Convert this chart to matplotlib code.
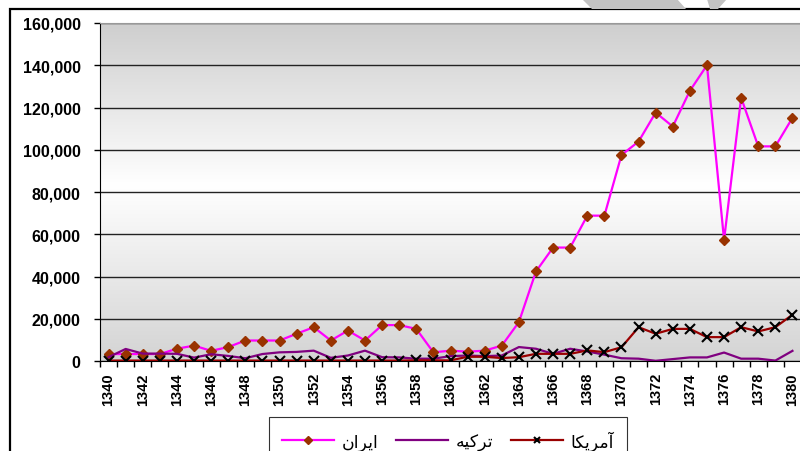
import numpy as np
import matplotlib
matplotlib.use("Agg")
import matplotlib.pyplot as plt
from matplotlib.patches import Rectangle, Polygon
from matplotlib.ticker import FuncFormatter, FixedLocator

# --------------------------------------------------
# data
# --------------------------------------------------

years = list(range(1340, 1381))

iran = [3300, 3300, 3300, 3300, 5800, 7300, 4800, 6600, 9700, 9700,
        9700, 12900, 16000, 9700, 14400, 9700, 17000, 17000, 15200, 4100,
        4900, 4400, 4900, 7300, 18400, 42400, 53700, 53700, 68800, 68800,
        97500, 103900, 117600, 111000, 127900, 140000, 57300, 124600, 101600, 101600,
        115100]

turkey = [1800, 5700, 3500, 3500, 3400, 1600, 3200, 2400, 1300, 3300,
          4100, 4300, 4900, 1500, 2600, 4900, 1800, 1700, 1100, 1100,
          2300, 2600, 2300, 2600, 6600, 5800, 3400, 5800, 4500, 3000,
          1300, 1100, 100, 900, 1700, 1700, 4000, 1100, 1100, 200,
          4800]

usa = [200, 200, 200, 200, 200, 200, 200, 200, 200, 200,
       200, 200, 200, 200, 200, 200, 200, 200, 300, 300,
       300, 2000, 2000, 1400, 1800, 3400, 3400, 3400, 5000, 4200,
       6500, 16000, 12900, 15200, 15200, 11300, 11300, 16000, 14000, 16000,
       21900]

# Persian labels, written in shaped (presentation) forms in visual order,
# since matplotlib does no Arabic shaping itself
label_iran = "\uFEE5\uFE8D\uFEAE\uFEF3\uFE8D"          # ایران
label_turkey = "\uFEEA\uFEF4\uFEDB\uFEAE\uFE97"        # ترکیه
label_usa = "\uFE8E\uFEDC\uFEF3\uFEAE\uFEE3\uFE81"     # آمریکا

y_ticks = [0, 20000, 40000, 60000, 80000, 100000, 120000, 140000, 160000]

# --------------------------------------------------
# figure
# --------------------------------------------------

plt.rcParams["font.family"] = ["Liberation Sans", "DejaVu Sans"]

W, H = 800, 452
fig = plt.figure(figsize=(W / 100, H / 100), dpi=100)
ax = fig.add_axes([100 / W, (H - 362) / H, 701 / W, 338 / H])

# vertical gray-white-gray gradient behind the plot
t = np.linspace(0, 1, 256)
shade = np.where(t < 0.52, 0.83 + 0.17 * t / 0.52, 1.0 - 0.19 * (t - 0.52) / 0.48)
grad = np.repeat(shade[:, None, None], 3, axis=2)
ax.imshow(grad, extent=[0, 1, 0, 1], transform=ax.transAxes, origin="lower",
          aspect="auto", zorder=0, interpolation="bilinear")
ax.patch.set_visible(False)

x = np.arange(len(years))
ax.plot(x, iran, color="#ff00ff", lw=1.6, marker="D", markersize=5.5,
        markerfacecolor="#993300", markeredgecolor="#993300", label=label_iran, zorder=3)
ax.plot(x, turkey, color="#800080", lw=1.6, label=label_turkey, zorder=3)
ax.plot(x, usa, color="#990000", lw=1.6, marker="x", markersize=6.5,
        markeredgecolor="black", markeredgewidth=1.5, label=label_usa, zorder=4)

ax.set_xlim(-0.5, len(years) - 0.5)
ax.set_ylim(0, 160000)

ax.set_yticks(y_ticks)
ax.yaxis.set_major_formatter(FuncFormatter(lambda v, p: f"{int(v):,}"))
ax.grid(axis="y", color="#222222", lw=1.0)
ax.set_axisbelow(True)

ax.set_xticks(x[::2])
ax.set_xticklabels([str(y) for y in years[::2]], rotation=90)
ax.xaxis.set_minor_locator(FixedLocator(np.arange(-0.5, len(years), 1.0)))
ax.tick_params(axis="x", which="major", length=0, pad=8, labelsize=10.5)
ax.tick_params(axis="x", which="minor", length=4, width=1, direction="out")
ax.tick_params(axis="y", length=4, width=1, pad=10, labelsize=11.5)
for lab in ax.get_xticklabels() + ax.get_yticklabels():
    lab.set_fontweight("bold")

ax.spines["left"].set_color("black")
ax.spines["bottom"].set_color("black")
ax.spines["top"].set_color("#999999")
ax.spines["right"].set_visible(False)

# outer chart border (cut by the right and bottom edges)
fig.patches.append(Rectangle((10 / W, -0.5), 2, (H - 10) / H + 0.5, transform=fig.transFigure,
                             fill=False, ec="black", lw=1.6))

# watermark fragment above the border
wm_left = [(582, 0), (677, 0), (686, 10), (592, 10)]
wm_right = [(707, 0), (727, 0), (718, 10), (710, 10)]
for pts in (wm_left, wm_right):
    fig.patches.append(Polygon([(px / W, (H - py) / H) for px, py in pts], closed=True,
                               transform=fig.transFigure, fc="#c3c3c3", ec="none"))

leg = fig.legend(loc="upper left", bbox_to_anchor=(269 / W, (H - 418) / H), ncol=3,
                 frameon=True, fancybox=False, edgecolor="#333333", framealpha=1,
                 prop={"family": ["DejaVu Sans"], "size": 12.5},
                 handlelength=3.0, handletextpad=0.45, columnspacing=1.0,
                 borderpad=0.75, borderaxespad=0, markerscale=0.7)
leg.get_frame().set_linewidth(0.8)

fig.savefig("out.png", dpi=100)
